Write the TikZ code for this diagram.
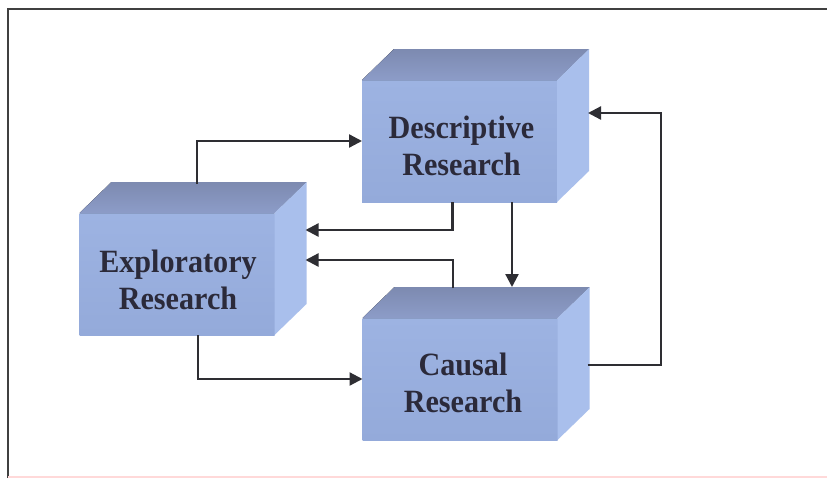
\documentclass[tikz,border=0pt]{standalone}
\usepackage{fontspec}
\setmainfont{Liberation Serif}
\usetikzlibrary{calc,arrows.meta}
\definecolor{frontc}{HTML}{9DB3E2}
\definecolor{frontd}{HTML}{94AADA}
\definecolor{topc}{HTML}{7D8AB0}
\definecolor{topd}{HTML}{8C9CC8}
\definecolor{sidec}{HTML}{A9BFEC}
\definecolor{txtc}{HTML}{2B2A3A}
\definecolor{linec}{HTML}{2E2E33}
\tikzset{
  front/.style={rectangle, inner sep=0pt, outer sep=0pt, minimum width=195pt, minimum height=122pt,
    top color=frontc, bottom color=frontd},
  topface/.style={top color=topc, bottom color=topd, draw=none},
  sideface/.style={fill=sidec, draw=none},
  lbl/.style={font=\fontsize{29}{33}\selectfont\bfseries, text=txtc, align=center, xscale=1.04, yscale=1.12, inner sep=0pt},
  arr/.style={draw=linec, line width=2.3pt, -{Triangle[length=13pt,width=13pt]}},
  frame/.style={draw=black!75, line width=1.8pt}
}
\begin{document}
\begin{tikzpicture}[x=1pt,y=-1pt]
\useasboundingbox[fill=white!97!blue!1] (0,0) rectangle (827,480);
% frame
\draw[frame] (8,478) -- (8,9) -- (827,9);
\draw[draw=red!15, line width=1.2pt] (8,477) -- (827,477);
% boxes
\node[front] (desc) at (459.5,141) {};
\node[front] (expl) at (177,274) {};
\node[front] (caus) at (460,379) {};
\foreach \b in {desc,expl,caus}{
  \fill[topface] (\b.north west) -- ++(32,-31) -- ($(\b.north east)+(32,-31)$) -- (\b.north east) -- cycle;
  \fill[sideface] (\b.north east) -- ++(32,-31) -- ($(\b.south east)+(32,-31)$) -- (\b.south east) -- cycle;
}
\node[lbl] (desct) at ($(desc.center)+(2,5)$) {Descriptive\\Research};
\node[lbl] (explt) at ($(expl.center)+(1,6)$) {Exploratory\\Research};
\node[lbl] (caust) at ($(caus.center)+(3,4)$) {Causal\\Research};
% connectors
\draw[arr] ($(expl.north)+(20,-29)$) |- (desc.west);
\draw[arr] ($(expl.south)+(21,0)$) |- (caus.west);
\draw[arr] ($(desc.south)+(52.5,0)$) -- ($(caus.north)+(52,-31)$);
\draw[arr] ($(desc.south)+(-7,0)$) |- ($(expl.east)+(31,-44)$);
\draw[arr] ($(caus.north)+(-7,-30)$) |- ($(expl.east)+(31,-14)$);
\coordinate (rc) at (661,0);
\draw[arr] ($(caus.east)+(30,-14)$) -| (rc |- desc.east) |- ($(desc.east)+(31,-28)$);
\end{tikzpicture}
\end{document}
